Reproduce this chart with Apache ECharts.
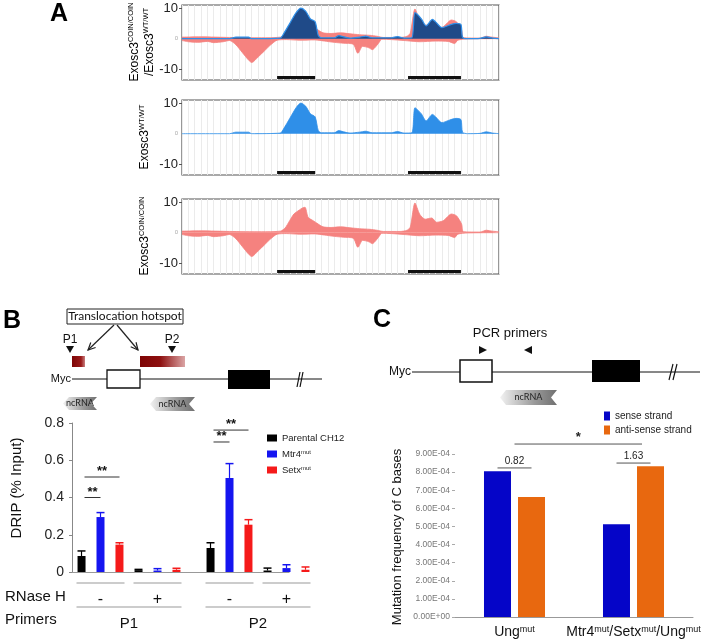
<!DOCTYPE html>
<html><head><meta charset="utf-8">
<script src="https://cdn.jsdelivr.net/npm/echarts@6/dist/echarts.min.js"></script>
<style>html,body{margin:0;padding:0;background:#fff}#c{width:708px;height:642px}</style>
</head><body><div id="c"></div>
<script>
// ---------- Panel A data (x: position along locus 0-100, y: signal) ----------
const coinPos = [[0,0.5],[6,0.6],[15,0.4],[25,0.3],[31,0.5],[32.5,1.5],[34,4],[35.3,6.1],[37,7.4],[38,8.1],[38.8,8.3],[39.8,5],[41.4,3.9],[43,2.8],[44.5,1.9],[47,1.7],[50,1.9],[53,1.6],[56,1.3],[59.3,1.1],[61.5,0.8],[63.5,0.4],[68.8,0.4],[71,0.8],[72,1.8],[73.5,9.7],[75,6],[76.7,4.4],[78.8,4.8],[80.3,3.4],[82.4,3.9],[85,6.1],[86.6,5.5],[88.2,2.8],[88.8,0.3],[94,0.2],[96,0.8],[97.8,0.5],[100,0.3]];
const coinNeg = [[0,-0.6],[2,-1],[5,-1.2],[8,-0.9],[10,-1.3],[13,-1.0],[15,-0.6],[17,-2],[19,-4.5],[21,-7],[22,-7.8],[24,-6],[26,-4],[28,-2],[30,-0.5],[33,-0.3],[37,-0.5],[42,-0.4],[45,-0.8],[48,-1.2],[51,-1.5],[54,-1.8],[55.5,-4.8],[57,-2.5],[59,-3],[60,-3.6],[62,-1.5],[63,-0.2],[66,-0.3],[70,-0.6],[75,-1],[80,-0.8],[84,-0.9],[86,-1.6],[87,-0.5],[90,-0.1],[100,0]];
const wtPos = [[0,0],[15,0],[17,0.5],[21,0.5],[22,0],[31,0.2],[32,1.5],[34,5],[36,8.5],[37.5,10],[39,9],[40.5,6.5],[42,5.5],[43,1],[44,0.3],[48,0.3],[49.5,1],[51,0.6],[53,0.2],[56,0.5],[58,0.8],[60,0.3],[66,0.3],[68,0.7],[70,0.2],[72.5,0.3],[73.5,8.5],[75.5,6.5],[77,4.2],[79,6.3],[80,5.5],[82,3.6],[84.5,4.5],[86.5,5],[88,4.6],[88.5,0.5],[90,0],[94,0.1],[96,0.6],[98,0.2],[100,0]];
const geneBlocks = [[30,42],[71.3,88]];
const trackTicks = [-10, 0, 10];

// ---------- Panel B data ----------
const rnaseCats = ['-', '+'];
const primerNames = ['P1', 'P2'];
const bSeriesNames = ['Parental CH12', 'Mtr4^mut', 'Setx^mut'];
// order: P1 -, P1 +, P2 -, P2 +
const parental = [0.086, 0.010, 0.129, 0.008];
const parentalErr = [0.027, 0.004, 0.028, 0.013];
const mtr4 = [0.295, 0.008, 0.505, 0.021];
const mtr4Err = [0.024, 0.010, 0.077, 0.018];
const setx = [0.147, 0.012, 0.254, 0.012];
const setxErr = [0.010, 0.008, 0.027, 0.015];
// brackets: [category, fromBar, toBar, y]
const bBracketsP1 = [[0,-1,0,0.40],[0,-1,1,0.51]];
const bBracketsP2 = [[0,-1,0,0.698],[0,-1,1,0.762]];
const bBracketLabels = ['**','**'];

// ---------- Panel C data ----------
const cCats = ['Ung^mut', 'Mtr4^mut/Setx^mut/Ung^mut'];
const cSeriesNames = ['sense strand', 'anti-sense strand'];
const senseVals = [8.05e-4, 5.12e-4];
const antisenseVals = [6.62e-4, 8.32e-4];
// [fromCat, fromBar, toCat, toBar, y]
const cBrackets = [[0,-0.5,0,0.5,8.23e-4],[1,-0.5,1,0.5,8.5e-4],[0,0,1,0.25,9.55e-4]];
const cBracketLabels = ['0.82','1.63','*'];

const FONT = 'Liberation Sans, Arial, sans-serif';
const PINK = '#f5827f', LBLUE = '#2f8fe8', NAVY = '#1f4a88';
const BLK = '#000000', BBLUE = '#1515f0', BRED = '#f51a1a';
const CBLUE = '#0505c8', CORANGE = '#e8680f';

const sup = s => s.replace(/\^([\w]+)/g, '{s|$1}');

const chart = echarts.init(document.getElementById('c'), null, {renderer:'canvas'});

const trackGrids = [{left:182, top:5}, {left:182, top:100}, {left:182, top:199}];
const grids = trackGrids.map(g => ({left:g.left, top:g.top, width:317, height:75, show:true, borderColor:'#555', borderWidth:1.2, backgroundColor:'#fff'}));
grids.push({left:72, top:423, width:114, height:149});
grids.push({left:201, top:423, width:114, height:149});
grids.push({left:455, top:454, width:238, height:163});

const xAxes = [], yAxes = [], series = [];
for (let i = 0; i < 3; i++) {
  xAxes.push({gridIndex:i, type:'value', min:0, max:100, interval:2,
    axisLine:{show:false}, axisTick:{show:false}, axisLabel:{show:false},
    splitLine:{show:true, lineStyle:{color:'#ebebeb', width:1}}});
  yAxes.push({gridIndex:i, type:'value', min:-13.5, max:11,
    axisLine:{show:false}, splitLine:{show:false},
    axisTick:{show:true, customValues:[-10,10], length:3, lineStyle:{color:'#555'}},
    axisLabel:{customValues:trackTicks, margin:4, fontFamily:FONT, fontSize:13, color:'#222',
      formatter: v => v === 0 ? '{z|0}' : String(v), rich:{z:{fontSize:6, color:'#aaa'}}}});
}
function area(gi, data, color, opts) {
  return Object.assign({type:'line', xAxisIndex:gi, yAxisIndex:gi, data, smooth:0.25, showSymbol:false, silent:true,
    lineStyle:{width:0.8, color}, areaStyle:{color, opacity:1}, z:2}, opts||{});
}
// track 1 : overlay
series.push(area(0, coinPos, PINK));
series.push(area(0, coinNeg, PINK));
series.push(area(0, wtPos, NAVY, {lineStyle:{width:1.2, color:LBLUE}, z:3}));
// track 2 : WT
series.push(area(1, wtPos, LBLUE));
// track 3 : COIN
series.push(area(2, coinPos, PINK));
series.push(area(2, coinNeg, PINK));
for (let i = 0; i < 3; i++) {
  series.push({type:'custom', xAxisIndex:i, yAxisIndex:i, data:geneBlocks, silent:true, z:4,
    renderItem(p, api){
      const a = api.coord([api.value(0), -12.7]), b = api.coord([api.value(1), -12.7]);
      return {type:'rect', shape:{x:a[0], y:a[1]-1.5, width:b[0]-a[0], height:3}, style:{fill:'#111'}};
    }});
}

// ---------- Panel B axes ----------
[3,4].forEach((gi, k) => {
  xAxes.push({gridIndex:gi, type:'category', data:rnaseCats,
    axisLine:{show:k===0, lineStyle:{color:'#999'}}, axisTick:{show:false},
    axisLabel:{margin:20, fontFamily:FONT, fontSize:16, color:'#111'},
    name:primerNames[k], nameLocation:'middle', nameGap:44, nameTextStyle:{fontFamily:FONT, fontSize:15, color:'#111'}});
  yAxes.push({gridIndex:gi, type:'value', min:0, max:0.8, interval:0.2, show:k===0,
    axisLine:{show:true, lineStyle:{color:'#888'}}, axisTick:{show:true, length:3, lineStyle:{color:'#888'}},
    splitLine:{show:false},
    axisLabel:{fontFamily:FONT, fontSize:14, color:'#222', margin:8}});
});
const bData = [[parental, parentalErr, BLK], [mtr4, mtr4Err, BBLUE], [setx, setxErr, BRED]];
[3,4].forEach((gi, k) => {
  bData.forEach((d, si) => {
    series.push({type:'bar', name:bSeriesNames[si], xAxisIndex:gi, yAxisIndex:gi,
      data:d[0].slice(k*2, k*2+2), barWidth:8, barGap:'137%', itemStyle:{color:d[2]}, z:2});
  });
  bData.forEach((d, si) => {
    const vals = d[0].slice(k*2, k*2+2), errs = d[1].slice(k*2, k*2+2);
    series.push({type:'custom', name:'err'+si, xAxisIndex:gi, yAxisIndex:gi, silent:true, z:3,
      data: vals.map((v,i) => [i, v, errs[i]]),
      renderItem(p, api){
        const c = api.coord([api.value(0), api.value(1)]);
        const t = api.coord([api.value(0), api.value(1)+api.value(2)]);
        const x = c[0] + (si-1)*19;
        return {type:'group', children:[
          {type:'line', shape:{x1:x, y1:c[1], x2:x, y2:t[1]}, style:{stroke:d[2], lineWidth:1.2}},
          {type:'line', shape:{x1:x-4, y1:t[1], x2:x+4, y2:t[1]}, style:{stroke:d[2], lineWidth:1.5}}
        ]};
      }});
  });
  series.push({type:'custom', name:'br', xAxisIndex:gi, yAxisIndex:gi, silent:true, z:4,
    data: k===0 ? bBracketsP1 : bBracketsP2,
    renderItem(p, api){
      const a = api.coord([api.value(0), api.value(3)]);
      const x0 = a[0] + api.value(1)*19 + 3, x1 = a[0] + api.value(2)*19;
      return {type:'group', children:[
        {type:'line', shape:{x1:x0, y1:a[1], x2:x1, y2:a[1]}, style:{stroke:'#333', lineWidth:1}},
        {type:'text', x:(x0+x1)/2, y:a[1]+1, style:{text:bBracketLabels[p.dataIndex], align:'center', verticalAlign:'bottom', fontFamily:FONT, fontSize:13, fontWeight:'bold', fill:'#111'}}
      ]};
    }});
});

// ---------- Panel C axes ----------
const fmtE = v => {
  if (v === 0) return '0.00E+00';
  const e = Math.floor(Math.log10(v) + 1e-9);
  const m = v / Math.pow(10, e);
  return m.toFixed(2) + 'E' + (e < 0 ? '-' : '+') + String(Math.abs(e)).padStart(2, '0');
};
xAxes.push({gridIndex:5, type:'category', data:cCats,
  axisLine:{show:true, lineStyle:{color:'#999'}}, axisTick:{show:false},
  axisLabel:{interval:0, hideOverlap:false, margin:8, fontFamily:FONT, fontSize:14, color:'#111', formatter: v => sup(v),
    rich:{s:{fontSize:9, verticalAlign:'top', lineHeight:14, fontFamily:FONT, color:'#111'}}}});
yAxes.push({gridIndex:5, type:'value', min:0, max:9e-4, interval:1e-4,
  axisLine:{show:false}, axisTick:{show:true, length:3, lineStyle:{color:'#aaa'}},
  splitLine:{show:false},
  axisLabel:{fontFamily:FONT, fontSize:8.5, color:'#777', margin:5, formatter:fmtE}});
series.push({type:'bar', name:cSeriesNames[0], xAxisIndex:5, yAxisIndex:5, data:senseVals, barWidth:27, barGap:'26%', itemStyle:{color:CBLUE}});
series.push({type:'bar', name:cSeriesNames[1], xAxisIndex:5, yAxisIndex:5, data:antisenseVals, barWidth:27, barGap:'26%', itemStyle:{color:CORANGE}});
series.push({type:'custom', name:'cbr', xAxisIndex:5, yAxisIndex:5, silent:true, z:4, clip:false,
  data:cBrackets,
  renderItem(p, api){
    const a = api.coord([api.value(0), api.value(4)]);
    const b = api.coord([api.value(2), api.value(4)]);
    const x0 = a[0] + api.value(1)*34, x1 = b[0] + api.value(3)*34;
    const star = cBracketLabels[p.dataIndex] === '*';
    return {type:'group', children:[
      {type:'line', shape:{x1:x0, y1:a[1], x2:x1, y2:a[1]}, style:{stroke:'#555', lineWidth:1}},
      {type:'text', x:(x0+x1)/2, y:a[1]-(star?0:2), style:{text:cBracketLabels[p.dataIndex], align:'center', verticalAlign:'bottom', fontFamily:FONT, fontSize:star?13:10, fontWeight:star?'bold':'normal', fill:'#222'}}
    ]};
  }});

const option = {
  animation:false,
  backgroundColor:'#fff',
  grid:grids, xAxis:xAxes, yAxis:yAxes, series,
  legend:[
    {data:bSeriesNames, left:262, top:428, orient:'vertical', icon:'rect', itemWidth:10, itemHeight:7, itemGap:6,
      formatter: n => sup(n),
      textStyle:{fontFamily:FONT, fontSize:9.5, color:'#222', rich:{s:{fontSize:6, verticalAlign:'top', lineHeight:10, color:'#222'}}}},
    {data:cSeriesNames, left:599, top:406, orient:'vertical', icon:'rect', itemWidth:6, itemHeight:9, itemGap:4,
      textStyle:{fontFamily:FONT, fontSize:10, color:'#222'}}
  ]
};
chart.setOption(option);

// ---------- decorative schematics & titles ----------
function arrow(x1,y1,x2,y2){
  const ang = Math.atan2(y2-y1, x2-x1), L = 8, sp = 0.45;
  return [
    {type:'line', shape:{x1,y1,x2,y2}, style:{stroke:'#222', lineWidth:1.2}},
    {type:'polyline', shape:{points:[[x2-L*Math.cos(ang-sp), y2-L*Math.sin(ang-sp)],[x2,y2],[x2-L*Math.cos(ang+sp), y2-L*Math.sin(ang+sp)]]}, style:{stroke:'#222', lineWidth:1.2, fill:null}}
  ];
}
function chevron(x0,x1,yt,yb,label){
  const ym = (yt+yb)/2;
  return [
    {type:'polygon', shape:{points:[[x0,ym],[x0+6,yt],[x1,yt],[x1-6,ym],[x1,yb],[x0+6,yb]]},
      style:{fill:new echarts.graphic.LinearGradient(0,0,1,0,[{offset:0,color:'#f2f2f2'},{offset:0.6,color:'#9a9a9a'},{offset:1,color:'#707070'}])}},
    {type:'text', x:(x0+x1)/2, y:ym, style:{text:label, align:'center', verticalAlign:'middle', fontFamily:'Lato, sans-serif', fontSize:9, fill:'#222'}}
  ];
}
function tri(x,y,dir){
  if (dir==='down') return {type:'polygon', shape:{points:[[x-4,y-4],[x+4,y-4],[x,y+3]]}, style:{fill:'#111'}};
  if (dir==='right') return {type:'polygon', shape:{points:[[x-4,y-4],[x+4,y],[x-4,y+4]]}, style:{fill:'#111'}};
  return {type:'polygon', shape:{points:[[x+4,y-4],[x-4,y],[x+4,y+4]]}, style:{fill:'#111'}};
}
const richName = {n:{fontFamily:FONT, fontSize:12, color:'#333', lineHeight:15}, s:{fontFamily:FONT, fontSize:7.5, color:'#333', verticalAlign:'top', lineHeight:15}};
const g = [];
// panel letters
g.push({type:'text', x:59, y:14, style:{text:'A', align:'center', verticalAlign:'middle', fontFamily:FONT, fontSize:25, fontWeight:'bold', fill:'#000'}});
g.push({type:'text', x:12, y:321, style:{text:'B', align:'center', verticalAlign:'middle', fontFamily:FONT, fontSize:25, fontWeight:'bold', fill:'#000'}});
g.push({type:'text', x:382, y:320, style:{text:'C', align:'center', verticalAlign:'middle', fontFamily:FONT, fontSize:25, fontWeight:'bold', fill:'#000'}});
// track titles
g.push({type:'text', x:142, y:42, rotation:Math.PI/2, style:{text:'{n|Exosc3}{s|COIN/COIN}\n{n|/Exosc3}{s|WT/WT}', rich:richName, align:'center', verticalAlign:'middle'}});
g.push({type:'text', x:145, y:137, rotation:Math.PI/2, style:{text:'{n|Exosc3}{s|WT/WT}', rich:richName, align:'center', verticalAlign:'middle'}});
g.push({type:'text', x:145, y:236, rotation:Math.PI/2, style:{text:'{n|Exosc3}{s|COIN/COIN}', rich:richName, align:'center', verticalAlign:'middle'}});
// panel B schematic
g.push({type:'rect', shape:{x:67, y:309, width:116, height:15}, style:{fill:'#fff', stroke:'#222', lineWidth:1}});
g.push({type:'text', x:125, y:316.5, style:{text:'Translocation hotspot', align:'center', verticalAlign:'middle', fontFamily:'Lato, sans-serif', fontSize:12, fill:'#111'}});
arrow(114,325,88,350).forEach(e=>g.push(e));
arrow(117,325,138,350).forEach(e=>g.push(e));
g.push({type:'text', x:70, y:340, style:{text:'P1', align:'center', verticalAlign:'middle', fontFamily:FONT, fontSize:12, fill:'#111'}});
g.push({type:'text', x:172, y:340, style:{text:'P2', align:'center', verticalAlign:'middle', fontFamily:FONT, fontSize:12, fill:'#111'}});
g.push(tri(70,350,'down')); g.push(tri(172,350,'down'));
g.push({type:'rect', shape:{x:72, y:356, width:13, height:11}, style:{fill:new echarts.graphic.LinearGradient(0,0,1,0,[{offset:0,color:'#7e0505'},{offset:0.7,color:'#9a1a1a'},{offset:1,color:'#c98080'}])}});
g.push({type:'rect', shape:{x:140, y:356, width:45, height:11}, style:{fill:new echarts.graphic.LinearGradient(0,0,1,0,[{offset:0,color:'#7e0505'},{offset:0.45,color:'#8e1010'},{offset:1,color:'#dba5a5'}])}});
g.push({type:'text', x:71, y:379, style:{text:'Myc', align:'right', verticalAlign:'middle', fontFamily:FONT, fontSize:11, fill:'#111'}});
g.push({type:'line', shape:{x1:72, y1:379, x2:322, y2:379}, style:{stroke:'#111', lineWidth:1}});
g.push({type:'rect', shape:{x:107, y:370, width:33, height:18}, style:{fill:'#fff', stroke:'#111', lineWidth:1.3}});
g.push({type:'rect', shape:{x:228, y:370, width:42, height:19}, style:{fill:'#000'}});
g.push({type:'line', shape:{x1:297, y1:387, x2:300, y2:372}, style:{stroke:'#111', lineWidth:1.2}});
g.push({type:'line', shape:{x1:300, y1:387, x2:303, y2:372}, style:{stroke:'#111', lineWidth:1.2}});
chevron(63,97,397,410,'ncRNA').forEach(e=>g.push(e));
chevron(150,195,397,411,'ncRNA').forEach(e=>g.push(e));
// panel B texts
g.push({type:'text', x:17, y:488, rotation:Math.PI/2, style:{text:'DRIP (% Input)', align:'center', verticalAlign:'middle', fontFamily:FONT, fontSize:15, fill:'#111'}});
g.push({type:'text', x:5, y:597, style:{text:'RNase H', align:'left', verticalAlign:'middle', fontFamily:FONT, fontSize:15, fill:'#111'}});
g.push({type:'text', x:5, y:620, style:{text:'Primers', align:'left', verticalAlign:'middle', fontFamily:FONT, fontSize:15, fill:'#111'}});
// lines under B groups (positioned from the axes)
[3,4].forEach(gi => {
  const y0 = chart.convertToPixel({xAxisIndex:gi, yAxisIndex:gi}, [0, 0]);
  const y1 = chart.convertToPixel({xAxisIndex:gi, yAxisIndex:gi}, [1, 0]);
  [y0, y1].forEach(p => g.push({type:'line', shape:{x1:p[0]-24, y1:p[1]+11, x2:p[0]+24, y2:p[1]+11}, style:{stroke:'#999', lineWidth:1}}));
  g.push({type:'line', shape:{x1:y0[0]-24, y1:y0[1]+35, x2:y1[0]+24, y2:y0[1]+35}, style:{stroke:'#999', lineWidth:1}});
});
{
  const a = chart.convertToPixel({xAxisIndex:3, yAxisIndex:3}, [1, 0]);
  const b = chart.convertToPixel({xAxisIndex:4, yAxisIndex:4}, [0, 0]);
  g.push({type:'line', shape:{x1:a[0], y1:a[1]+0.5, x2:b[0]+60, y2:a[1]+0.5}, style:{stroke:'#999', lineWidth:1}});
}
// panel C schematic
g.push({type:'text', x:510, y:333, style:{text:'PCR primers', align:'center', verticalAlign:'middle', fontFamily:FONT, fontSize:13, fill:'#111'}});
g.push(tri(483,350,'right')); g.push(tri(528,350,'left'));
g.push({type:'text', x:411, y:372, style:{text:'Myc', align:'right', verticalAlign:'middle', fontFamily:FONT, fontSize:12, fill:'#111'}});
g.push({type:'line', shape:{x1:412, y1:372, x2:700, y2:372}, style:{stroke:'#111', lineWidth:1}});
g.push({type:'rect', shape:{x:460, y:360, width:32, height:22}, style:{fill:'#fff', stroke:'#111', lineWidth:1.5}});
g.push({type:'rect', shape:{x:592, y:360, width:48, height:22}, style:{fill:'#000'}});
g.push({type:'line', shape:{x1:669, y1:380, x2:673, y2:364}, style:{stroke:'#111', lineWidth:1.2}});
g.push({type:'line', shape:{x1:673, y1:380, x2:677, y2:364}, style:{stroke:'#111', lineWidth:1.2}});
chevron(500,557,390,405,'ncRNA').forEach(e=>g.push(e));
g.push({type:'text', x:397, y:537, rotation:Math.PI/2, style:{text:'Mutation frequency of C bases', align:'center', verticalAlign:'middle', fontFamily:FONT, fontSize:13, fill:'#111'}});

chart.setOption({graphic:g});
</script></body></html>
